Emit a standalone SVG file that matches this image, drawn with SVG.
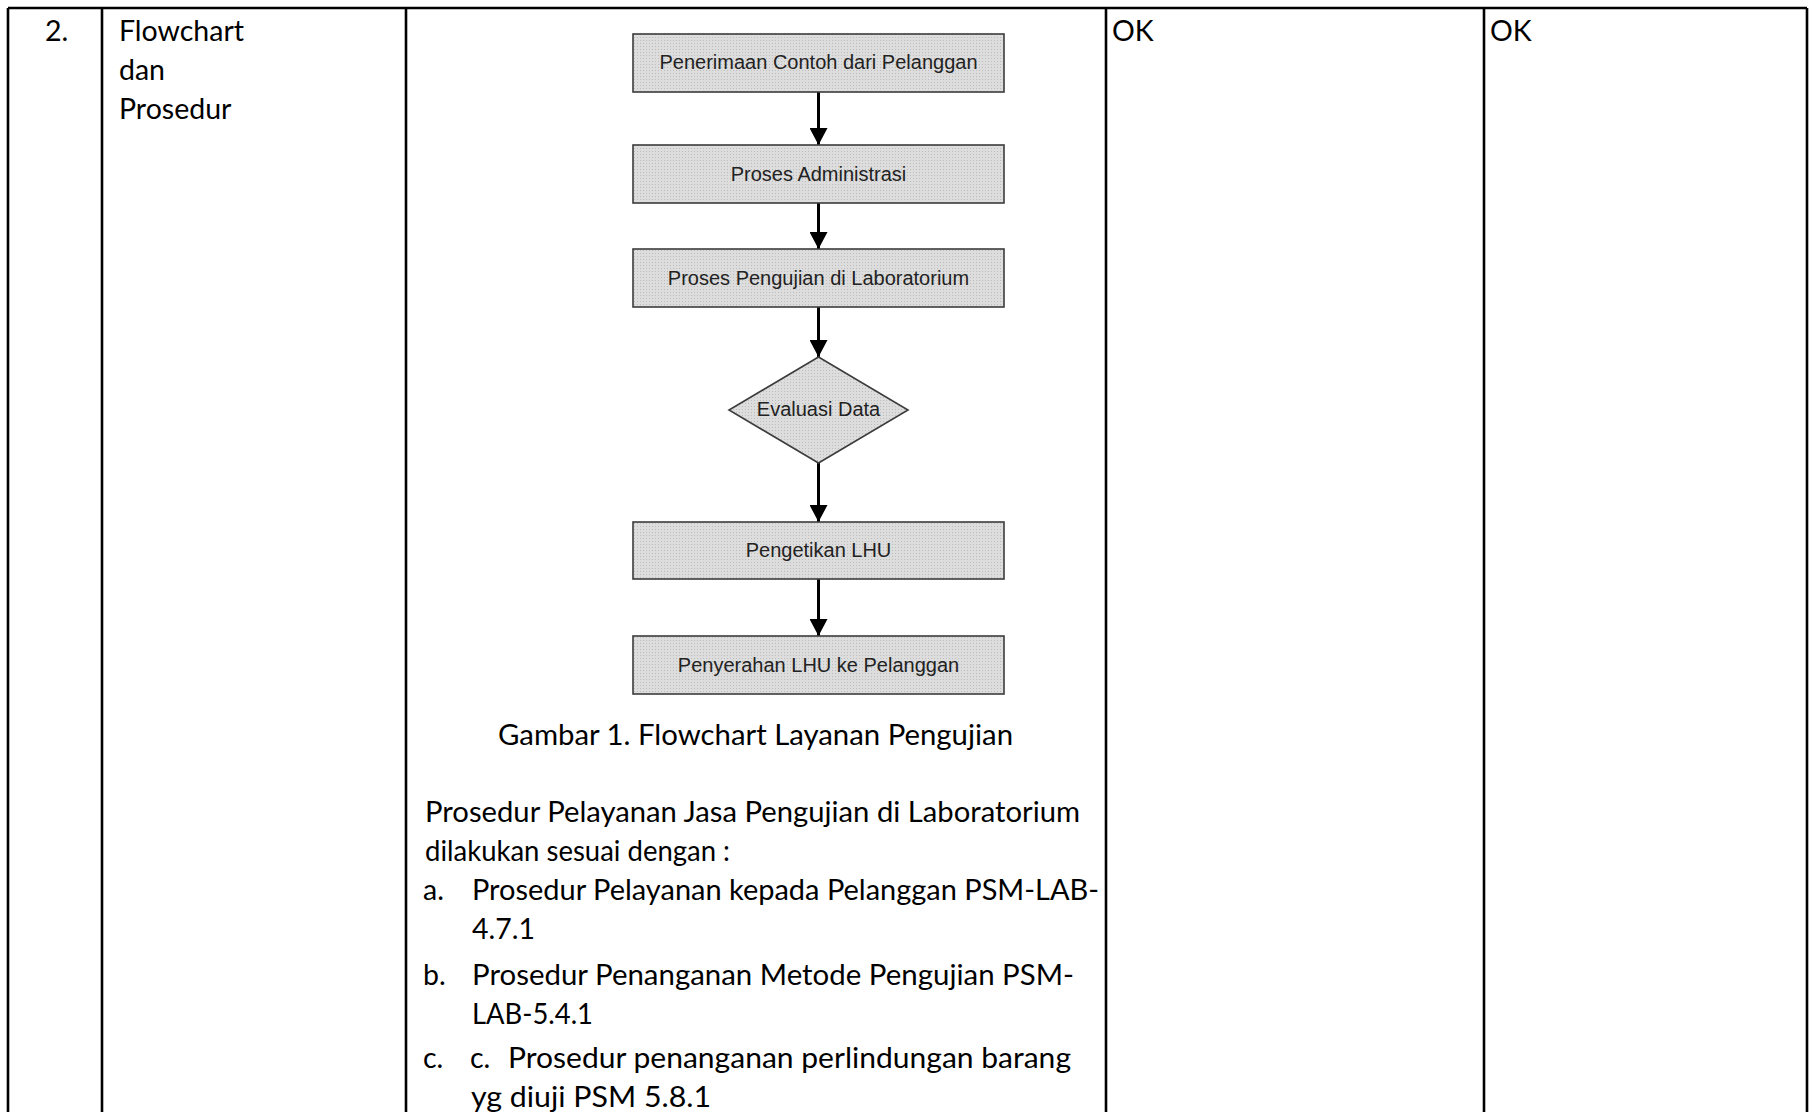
<svg xmlns="http://www.w3.org/2000/svg" width="1813" height="1112" viewBox="0 0 1813 1112">
<style>
.grid{stroke:#000;stroke-width:2.6;fill:none}
.doc{font-family:Lato,"Open Sans","Liberation Sans",sans-serif;font-size:28.5px;fill:#000}
.box{fill:url(#dots);stroke:#3c3c3c;stroke-width:1.6}
.lbl{font-family:"Liberation Sans",Arial,sans-serif;font-size:20px;fill:#222;text-anchor:middle}
.conn{stroke:#000;stroke-width:3;fill:none}
</style>
<defs>
<pattern id="dots" patternUnits="userSpaceOnUse" width="3" height="3">
<rect width="3" height="3" fill="#dddddd"/>
<rect x="1" y="1" width="1" height="1" fill="#bcbcbc"/>
</pattern>
<marker id="ah" viewBox="0 0 17 18" markerWidth="17" markerHeight="18" refX="17" refY="9" orient="auto" markerUnits="userSpaceOnUse">
<path d="M0,0 L17,9 L0,18 Z" fill="#000"/>
</marker>
</defs>
<rect width="1813" height="1112" fill="#fff"/>
<g id="table">
<path class="grid" d="M8,8 H1807 M8,8 V1112 M102,8 V1112 M406,8 V1112 M1106,8 V1112 M1484,8 V1112 M1807,8 V1112"/>
</g>
<g id="cells" class="doc">
<text x="45" y="41">2.</text>
<text x="119" y="41">Flowchart</text>
<text x="119" y="80">dan</text>
<text x="119" y="119">Prosedur</text>
<text x="1112" y="41">OK</text>
<text x="1490" y="41">OK</text>
</g>
<g id="connectors">
<path class="conn" marker-end="url(#ah)" d="M818.5,92 V145"/>
<path class="conn" marker-end="url(#ah)" d="M818.5,203 V249"/>
<path class="conn" marker-end="url(#ah)" d="M818.5,307 V357"/>
<path class="conn" marker-end="url(#ah)" d="M818.5,463 V522"/>
<path class="conn" marker-end="url(#ah)" d="M818.5,579 V636"/>
</g>
<g id="n1"><rect class="box" x="633" y="34" width="371" height="58"/><text class="lbl" x="818.5" y="69">Penerimaan Contoh dari Pelanggan</text></g>
<g id="n2"><rect class="box" x="633" y="145" width="371" height="58"/><text class="lbl" x="818.5" y="181">Proses Administrasi</text></g>
<g id="n3"><rect class="box" x="633" y="249" width="371" height="58"/><text class="lbl" x="818.5" y="285">Proses Pengujian di Laboratorium</text></g>
<g id="n4"><polygon class="box" points="818.5,357 908,410 818.5,463 729,410"/><text class="lbl" x="818.5" y="416">Evaluasi Data</text></g>
<g id="n5"><rect class="box" x="633" y="522" width="371" height="57"/><text class="lbl" x="818.5" y="557">Pengetikan LHU</text></g>
<g id="n6"><rect class="box" x="633" y="636" width="371" height="58"/><text class="lbl" x="818.5" y="672">Penyerahan LHU ke Pelanggan</text></g>
<g id="caption" class="doc">
<text x="498" y="745" textLength="515" lengthAdjust="spacingAndGlyphs">Gambar 1. Flowchart Layanan Pengujian</text>
</g>
<g id="procedure" class="doc">
<text x="425" y="822" textLength="655" lengthAdjust="spacingAndGlyphs">Prosedur Pelayanan Jasa Pengujian di Laboratorium</text>
<text x="425" y="861" textLength="305" lengthAdjust="spacingAndGlyphs">dilakukan sesuai dengan :</text>
<text x="423" y="900">a.</text>
<text x="472" y="900" textLength="627" lengthAdjust="spacingAndGlyphs">Prosedur Pelayanan kepada Pelanggan PSM-LAB-</text>
<text x="472" y="939" textLength="63" lengthAdjust="spacingAndGlyphs">4.7.1</text>
<text x="423" y="985">b.</text>
<text x="472" y="985" textLength="602" lengthAdjust="spacingAndGlyphs">Prosedur Penanganan Metode Pengujian PSM-</text>
<text x="472" y="1024" textLength="121" lengthAdjust="spacingAndGlyphs">LAB-5.4.1</text>
<text x="423" y="1068">c.</text>
<text y="1068"><tspan x="470">c.</tspan><tspan x="508" textLength="563" lengthAdjust="spacingAndGlyphs">Prosedur penanganan perlindungan barang</tspan></text>
<text x="471" y="1107" textLength="240" lengthAdjust="spacingAndGlyphs">yg diuji PSM 5.8.1</text>
</g>
</svg>
